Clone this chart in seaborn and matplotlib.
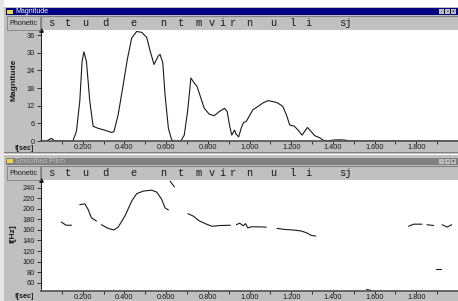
import numpy as np
import pandas as pd
import seaborn as sns
import matplotlib.pyplot as plt
from matplotlib.patches import Rectangle

#### Data ####

# magnitude envelope
mag_t = [0.0, 0.025, 0.04, 0.049, 0.058, 0.067, 0.153, 0.17, 0.186, 0.197, 0.206, 0.218, 0.234,
         0.25, 0.274, 0.31, 0.338, 0.35, 0.37, 0.394, 0.414, 0.435, 0.459, 0.483, 0.507, 0.523,
         0.542, 0.563, 0.571, 0.584, 0.595, 0.611, 0.627, 0.64, 0.671, 0.687, 0.703, 0.719, 0.735,
         0.748, 0.764, 0.783, 0.807, 0.831, 0.855, 0.88, 0.893, 0.904, 0.915, 0.928, 0.936, 0.948,
         0.96, 0.971, 0.984, 1.0, 1.016, 1.04, 1.064, 1.088, 1.112, 1.136, 1.16, 1.177, 1.193,
         1.214, 1.233, 1.252, 1.278, 1.297, 1.313, 1.337, 1.353, 1.37, 1.4, 1.43, 1.46, 1.475, 2.0]
mag_val = [0.0, 0.0, 0.5, 0.9, 0.5, 0.0, 0.0, 3.3, 13.5, 27.0, 30.3, 27.0, 13.5,
           5.0, 4.3, 3.6, 2.9, 3.2, 8.9, 19.0, 27.7, 35.0, 37.2, 36.9, 35.2, 30.7,
           26.0, 28.9, 29.4, 26.6, 15.7, 4.3, 0.3, 0.0, 0.0, 2.0, 10.0, 21.4, 19.7,
           18.6, 15.2, 11.1, 9.1, 8.6, 10.0, 11.1, 10.0, 5.4, 2.0, 3.7, 2.3, 1.4,
           4.3, 6.3, 6.6, 8.6, 10.6, 11.7, 12.9, 13.7, 13.4, 12.9, 11.7, 8.9, 5.4,
           5.1, 3.7, 2.0, 4.6, 3.1, 1.8, 1.1, 0.3, 0.0, 0.3, 0.4, 0.3, 0.0, 0.0]

# smoothed pitch, voiced pieces only (seg = piece id)
pitch_seg = [1, 1, 1,
             2, 2, 2, 2, 2,
             3, 3, 3, 3, 3, 3, 3, 3, 3, 3, 3, 3, 3,
             4, 4,
             5, 5, 5, 5, 5, 5, 5,
             6, 6, 6, 6, 6, 6, 6, 6,
             7, 7, 7, 7, 7, 7, 7,
             8, 8,
             9, 9, 9,
             10, 10,
             11, 11, 11,
             12, 12]
pitch_t = [0.097, 0.121, 0.146,
           0.186, 0.21, 0.226, 0.242, 0.266,
           0.29, 0.322, 0.349, 0.37, 0.402, 0.435, 0.459, 0.491, 0.531, 0.555, 0.579, 0.595, 0.611,
           0.619, 0.64,
           0.705, 0.732, 0.756, 0.788, 0.82, 0.86, 0.908,
           0.937, 0.953, 0.97, 0.981, 0.992, 1.008, 1.04, 1.08,
           1.132, 1.169, 1.209, 1.249, 1.273, 1.297, 1.318,
           1.562, 1.583,
           1.763, 1.787, 1.827,
           1.851, 1.883,
           1.924, 1.948, 1.969,
           1.896, 1.919]
pitch_hz = [175, 169, 169,
            208, 209.7, 199, 183, 177,
            170, 163, 160, 165.5, 186, 215, 229, 234, 235.6, 232, 218, 202, 198,
            252.7, 242,
            191, 186, 178, 172, 167, 168.5, 169,
            170, 173, 168, 172, 164, 166, 166, 165.5,
            163, 161, 160, 158, 154.7, 149.6, 148.5,
            47, 45,
            167, 171, 171,
            170, 168.5,
            170, 165.5, 170,
            86.5, 86.5]

# phonetic transcription row
phon_labels = ['s', 't', 'u', 'd', 'e', 'n', 't', 'm', 'v', 'i', 'r', 'n', 'u', 'l', 'i', 'sj']
phon_t = [0.051, 0.13, 0.214, 0.311, 0.446, 0.585, 0.672, 0.754, 0.817, 0.87, 0.918, 1.0,
          1.116, 1.207, 1.284, 1.458]

sec_ticks = [0.2, 0.4, 0.6, 0.8, 1.0, 1.2, 1.4, 1.6, 1.8]
mag_ticks = [0, 6, 12, 18, 24, 30, 36]
hz_ticks = [60, 80, 100, 120, 140, 160, 180, 200, 220, 240]

#### Styling ####
sns.set_style("ticks")
plt.rcParams['font.family'] = ['Liberation Sans', 'DejaVu Sans']

W, H = 458, 301
GRAY = '#c0c0c0'
DARK = '#808080'
INK = '#1a1a1a'

fig = plt.figure(figsize=(W / 100, H / 100), dpi=100, facecolor=GRAY)


def box(x, y, w, h):
    """pixel box (top-left origin) -> figure fraction rect"""
    return [x / W, 1 - (y + h) / H, w / W, h / H]


def rect(x, y, w, h, **kw):
    fig.patches.append(Rectangle((x / W, 1 - (y + h) / H), w / W, h / H,
                                 transform=fig.transFigure, figure=fig, **kw))


def ftext(x, y, s, **kw):
    fig.text(x / W, 1 - y / H, s, **kw)


# outer frame bits
rect(0, 0, W, 7, facecolor='white', edgecolor='none')
rect(0, 0, 4, H, facecolor='#e6e6e6', edgecolor='none')
rect(4, 152, W, 1, facecolor=DARK, edgecolor='none')
rect(4, 154, W, 1, facecolor='white', edgecolor='none')


def window(y0, title, active, plot_top, plot_bot):
    # title bar
    rect(6, y0, W - 6, 7, facecolor='#000080' if active else DARK, edgecolor='none')
    rect(7, y0 + 1.5, 6, 4, facecolor='#e8d84a', edgecolor='none')
    ftext(15, y0 + 3.7, title, fontsize=5, va='center', ha='left',
          color='white' if active else GRAY)
    for i, g in enumerate(['-', '▫', '×']):
        bx = W - 19 + i * 6
        rect(bx, y0 + 1, 5, 5, facecolor=GRAY, edgecolor='none')
        ftext(bx + 2.5, y0 + 3.6, g, fontsize=3.5, ha='center', va='center', color='black')
    # "Phonetic" button
    rect(7, y0 + 8, 33, 14, facecolor=GRAY, edgecolor=DARK, linewidth=0.6)
    ftext(23, y0 + 15.3, 'Phonetic', fontsize=5.2, ha='center', va='center', color=INK)
    # phonetic strip, shares the time scale with the plot
    pax = fig.add_axes(box(41, y0 + 8, W - 41, plot_top - y0 - 8))
    pax.set_facecolor(GRAY)
    pax.set_xlim(0, 2.0)
    pax.set_ylim(0, 1)
    pax.set_xticks([])
    pax.set_yticks([])
    for s in pax.spines.values():
        s.set_linewidth(0.8)
    pax.spines['top'].set_color(DARK)
    pax.spines['left'].set_color(DARK)
    pax.spines['bottom'].set_color('white')
    pax.spines['right'].set_visible(False)
    for lab, t in zip(phon_labels, phon_t):
        pax.text(t, 0.5, lab, transform=pax.get_xaxis_transform(), ha='center', va='center',
                 fontsize=7.5, family='Liberation Mono', color=INK)
    # plot area
    ax = fig.add_axes(box(41, plot_top, W - 41, plot_bot - plot_top))
    ax.set_facecolor('white')
    return ax


def style_axes(ax, yticks, ylim):
    ax.set_xlim(0, 2.0)
    ax.set_ylim(*ylim)
    ax.set_xticks(sec_ticks)
    ax.set_xticklabels([f'{v:.3f}' for v in sec_ticks])
    ax.set_xticks(np.arange(0.1, 2.0, 0.2), minor=True)
    ax.set_yticks(yticks)
    ax.set_xlabel('')
    ax.set_ylabel('')
    ax.tick_params(axis='both', which='major', labelsize=5.3, width=0.6,
                   color=INK, labelcolor=INK)
    ax.tick_params(axis='y', which='major', length=3, pad=1.5)
    ax.tick_params(axis='x', which='major', length=2, pad=0.4)
    ax.tick_params(axis='x', which='minor', length=2, width=0.6, color=INK)
    ax.spines['top'].set_visible(False)
    ax.spines['right'].set_visible(False)
    ax.spines['left'].set_color(INK)
    ax.spines['left'].set_linewidth(0.7)
    ax.spines['bottom'].set_color('#505050')
    ax.spines['bottom'].set_linewidth(1.2)
    ax.plot(0, 1, marker='^', markersize=2.5, color=INK, transform=ax.transAxes, clip_on=False)


#### Magnitude window ####
ax1 = window(8, 'Magnitude', True, 30, 141)
mag_df = pd.DataFrame({'t': mag_t, 'mag': mag_val})
sns.lineplot(data=mag_df, x='t', y='mag', ax=ax1, color=INK, linewidth=0.8, estimator=None)
style_axes(ax1, mag_ticks, (0, 37.7))
ftext(14, 80, 'Magnitude', rotation=90, fontsize=6, fontweight='bold', ha='center', va='center',
      color=INK)
ftext(25, 149, 't[sec]', fontsize=5.2, fontweight='bold', ha='center', va='center', color=INK)

#### Smoothed pitch window ####
ax2 = window(158, 'Smoothed Pitch', False, 180, 291)
pitch_df = pd.DataFrame({'t': pitch_t, 'hz': pitch_hz, 'seg': pitch_seg})
sns.lineplot(data=pitch_df, x='t', y='hz', units='seg', estimator=None, ax=ax2, color=INK,
             linewidth=0.8, sort=False)
style_axes(ax2, hz_ticks, (44, 255))
ftext(13, 234, 'f[Hz]', rotation=90, fontsize=6, fontweight='bold', ha='center', va='center',
      color=INK)
ftext(25, 297, 't[sec]', fontsize=5.2, fontweight='bold', ha='center', va='center', color=INK)

fig.savefig('out.png', dpi=100, facecolor=GRAY)
